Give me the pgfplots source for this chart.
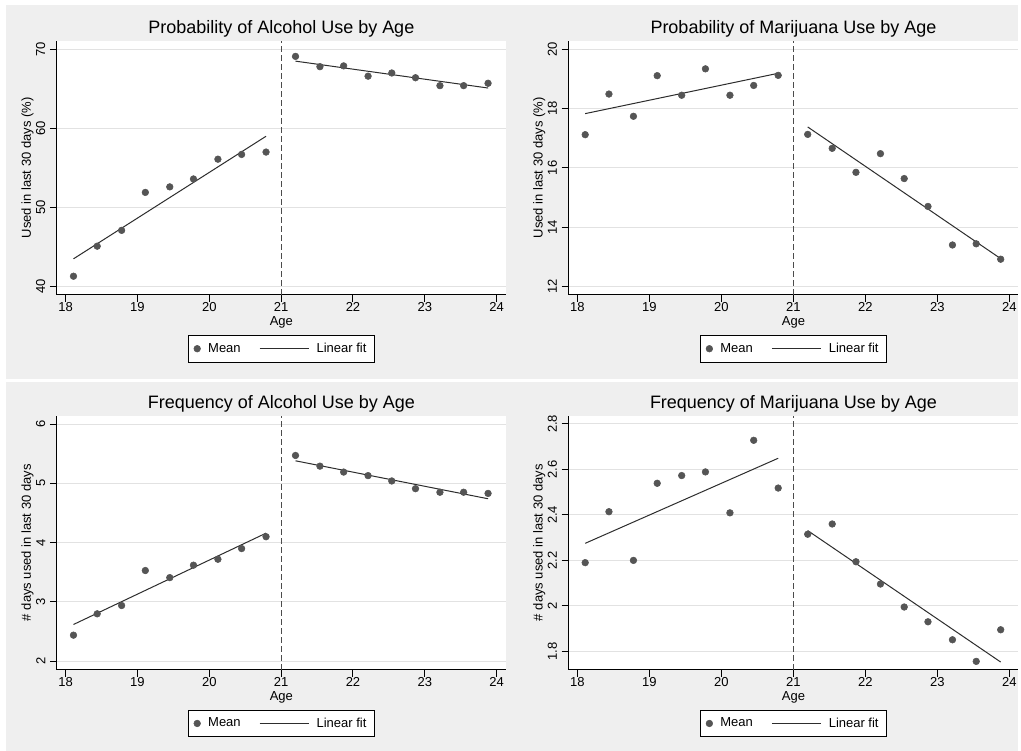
\documentclass[border=0pt]{standalone}
\usepackage{fontspec}
\setmainfont{Liberation Sans}
\usepackage{pgfplots}
\pgfplotsset{compat=1.18}
\usepackage{pgfplotstable}

\definecolor{panelgray}{RGB}{239,239,239}
\definecolor{gridgray}{RGB}{226,226,226}
\definecolor{markgray}{RGB}{85,85,85}
\definecolor{fitgray}{RGB}{45,45,45}

% Mean outcome by four-month age bin
\pgfplotstableread{
age   alcprob  mjprob  alcfreq  mjfreq
18.11 41.3     17.12   2.44     2.190
18.44 45.1     18.49   2.80     2.414
18.78 47.1     17.74   2.94     2.200
19.11 51.9     19.11   3.53     2.539
19.45 52.6     18.45   3.41     2.573
19.78 53.6     19.34   3.62     2.589
20.12 56.1     18.45   3.72     2.409
20.45 56.7     18.78   3.90     2.728
20.79 57.0     19.12   4.10     2.518
21.20 69.1     17.13   5.47     2.315
21.54 67.8     16.66   5.29     2.360
21.87 67.9     15.85   5.19     2.194
22.21 66.6     16.48   5.13     2.096
22.54 67.0     15.64   5.04     1.995
22.87 66.4     14.70   4.91     1.930
23.21 65.4     13.40   4.85     1.851
23.54 65.4     13.44   4.85     1.756
23.88 65.7     12.92   4.83     1.895
}\means

% Linear fits on each side of the cutoff (nan breaks the line at 21)
\pgfplotstableread{
age   alcprob  mjprob  alcfreq  mjfreq
18.11 43.5     17.83   2.62     2.275
20.79 59.0     19.19   4.16     2.649
21.00 nan      nan     nan      nan
21.20 68.5     17.38   5.38     2.331
23.88 65.1     12.94   4.74     1.753
}\fits

\pgfplotsset{
  rdpanel/.style={
    scale only axis,
    height=190.5pt,
    xmin=17.88, xmax=24.125,
    xtick={18,19,...,24},
    axis x line*=bottom, axis y line*=left,
    axis line style={-, black, line width=0.75pt},
    tick align=outside,
    major tick length=5.25pt,
    every tick/.style={black, line width=0.75pt},
    ymajorgrids,
    grid style={gridgray, line width=0.75pt},
    axis background/.style={fill=white},
    /pgf/number format/assume math mode=true,
    tick label style={font=\fontsize{9.75}{11}\selectfont, black},
    xticklabel style={yshift=3pt},
    yticklabel style={rotate=90, anchor=south},
    label style={font=\fontsize{9.75}{11}\selectfont, black},
    every axis title shift=0pt,
    title style={font=\fontsize{13.5}{15}\selectfont, black,
                 at={(0.5,1.0303)}, anchor=base},
    xlabel={Age},
    xlabel style={at={(axis description cs:0.5,-0.1209)}, anchor=base},
    ylabel style={at={(axis description cs:-0.0579,0.5)}, anchor=base},
    unbounded coords=jump,
    legend style={at={(0.5,0)}, anchor=north, yshift=-30pt,
                  draw=black, line width=0.75pt, fill=white,
                  font=\fontsize{9.75}{11}\selectfont,
                  inner xsep=4pt, inner ysep=3.8pt,
                  /tikz/every even column/.append style={column sep=11.85pt}},
    legend columns=2,
    legend cell align=left,
  },
  meanplot/.style={only marks, mark=*, mark size=2.5pt,
    mark options={fill=markgray, draw=markgray, line width=0.4pt},
    legend image code/.code={%
      \path[draw=none, fill=none] (0pt,0pt) rectangle (9pt,0pt);
      \draw[##1] plot coordinates {(2.75pt,0pt)};}},
  fitplot/.style={fitgray, line width=0.75pt, mark=none,
    legend image code/.code={%
      \path[draw=none, fill=none] (0pt,0pt) rectangle (40.75pt,0pt);
      \draw[##1] (0pt,0pt) -- (36.75pt,0pt);}},
  cutplot/.style={forget plot, black!70, line width=0.75pt,
    dash pattern=on 4.5pt off 2.25pt},
}

\begin{document}
\begin{tikzpicture}
% graph regions
\fill[white] (0pt,0pt) rectangle (765.75pt,563.25pt);
\fill[panelgray] (4.5pt,279pt) rectangle (764.25pt,559.5pt);
\fill[panelgray] (4.5pt,0pt) rectangle (764.25pt,276.75pt);

\begin{axis}[rdpanel, at={(42.75pt,342pt)}, width=336.75pt,
  ymin=38.95, ymax=71.05, ytick={40,50,60,70},
  title={Probability of Alcohol Use by Age},
  ylabel={Used in last 30 days (\%)}]
  \addplot[cutplot] coordinates {(21,38.95) (21,71.05)};
  \addplot[meanplot] table[x=age, y=alcprob] {\means};
  \addplot[fitplot] table[x=age, y=alcprob] {\fits};
  \legend{Mean, Linear fit}
\end{axis}

\begin{axis}[rdpanel, at={(426.75pt,342pt)}, width=337.5pt,
  ymin=11.72, ymax=20.28, ytick={12,14,16,18,20},
  title={Probability of Marijuana Use by Age},
  ylabel={Used in last 30 days (\%)}]
  \addplot[cutplot] coordinates {(21,11.72) (21,20.28)};
  \addplot[meanplot] table[x=age, y=mjprob] {\means};
  \addplot[fitplot] table[x=age, y=mjprob] {\fits};
  \legend{Mean, Linear fit}
\end{axis}

\begin{axis}[rdpanel, at={(42.75pt,60.75pt)}, width=336.75pt,
  ymin=1.86, ymax=6.14, ytick={2,3,4,5,6},
  title={Frequency of Alcohol Use by Age},
  ylabel={\# days used in last 30 days}]
  \addplot[cutplot] coordinates {(21,1.86) (21,6.14)};
  \addplot[meanplot] table[x=age, y=alcfreq] {\means};
  \addplot[fitplot] table[x=age, y=alcfreq] {\fits};
  \legend{Mean, Linear fit}
\end{axis}

\begin{axis}[rdpanel, at={(426.75pt,60.75pt)}, width=337.5pt,
  ymin=1.72, ymax=2.836, ytick={1.8,2,2.2,2.4,2.6,2.8},
  title={Frequency of Marijuana Use by Age},
  ylabel={\# days used in last 30 days}]
  \addplot[cutplot] coordinates {(21,1.72) (21,2.836)};
  \addplot[meanplot] table[x=age, y=mjfreq] {\means};
  \addplot[fitplot] table[x=age, y=mjfreq] {\fits};
  \legend{Mean, Linear fit}
\end{axis}
\end{tikzpicture}
\end{document}
